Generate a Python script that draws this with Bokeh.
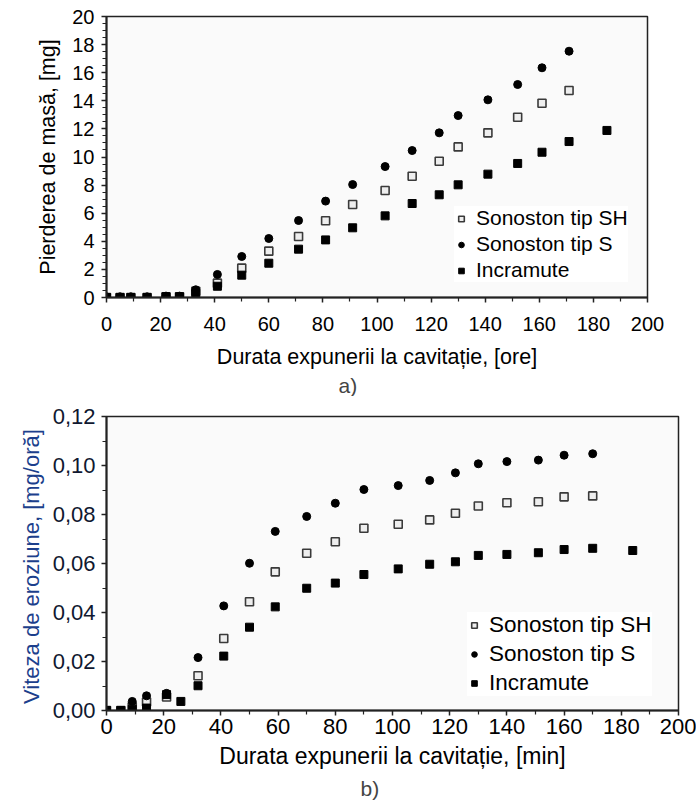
from bokeh.plotting import figure
from bokeh.layouts import column
from bokeh.models import Range1d, FixedTicker, Title, CustomJSTickFormatter
from bokeh.embed import file_html
from bokeh.resources import INLINE

# ---------- data (a) : mass loss [mg] vs exposure time [h] ----------
t_a = [0, 5, 9, 15, 22, 27, 33, 41, 50, 60, 71, 81, 91, 103, 113, 123, 130, 141, 152, 161, 171]
sh_a = [0, 0, 0, 0, 0.05, 0.05, 0.45, 1.02, 2.09, 3.3, 4.34, 5.46, 6.62, 7.62, 8.63, 9.7, 10.72, 11.72, 12.83, 13.83, 14.73]
s_a = [0.05, 0.05, 0.05, 0.05, 0.1, 0.1, 0.55, 1.64, 2.92, 4.2, 5.48, 6.86, 8.04, 9.32, 10.46, 11.72, 12.95, 14.07, 15.16, 16.35, 17.53]
t_a_inc = [0, 5, 9, 15, 22, 27, 33, 41, 50, 60, 71, 81, 91, 103, 113, 123, 130, 141, 152, 161, 171, 185]
inc_a = [0, 0, 0, 0, 0.05, 0.05, 0.25, 0.8, 1.59, 2.44, 3.44, 4.1, 4.96, 5.81, 6.69, 7.31, 8.02, 8.78, 9.54, 10.34, 11.1, 11.89]

# ---------- data (b) : erosion rate [mg/h] vs exposure time ----------
t_b = [0, 5, 9, 14, 21, 32, 41, 50, 59, 70, 80, 90, 102, 113, 122, 130, 140, 151, 160, 170]
s_b = [0, 0, 0.0037, 0.006, 0.007, 0.0216, 0.0427, 0.0601, 0.0731, 0.0792, 0.0846, 0.0902, 0.0918, 0.0939, 0.097, 0.1007, 0.1016, 0.1022, 0.1042, 0.1048]
sh_b = [0, 0, 0.0015, 0.0035, 0.0055, 0.0142, 0.0294, 0.0444, 0.0566, 0.0642, 0.0689, 0.0744, 0.076, 0.0778, 0.0805, 0.0835, 0.0848, 0.0852, 0.0872, 0.0876]
t_b_inc = [0, 5, 9, 14, 21, 26, 32, 41, 50, 59, 70, 80, 90, 102, 113, 122, 130, 140, 151, 160, 170, 184]
inc_b = [0, 0, 0.0005, 0.001, 0.0065, 0.0037, 0.0101, 0.0222, 0.034, 0.0423, 0.0499, 0.052, 0.0555, 0.0578, 0.0597, 0.0607, 0.0633, 0.0637, 0.0644, 0.0657, 0.0662, 0.0653]

labels = ["Sonoston tip SH", "Sonoston tip S", "Incramute"]
x_ticks = [0, 20, 40, 60, 80, 100, 120, 140, 160, 180, 200]
x_minor = [10, 30, 50, 70, 90, 110, 130, 150, 170, 190]
ya_ticks = [0, 2, 4, 6, 8, 10, 12, 14, 16, 18, 20]
yb_ticks = [0, 0.02, 0.04, 0.06, 0.08, 0.10, 0.12]

FONT = "Liberation Sans"


def style_axes(p, ticks_y, minor_y, tick_font):
    p.xgrid.visible = False
    p.ygrid.visible = False
    p.background_fill_color = "#fafafa"
    p.border_fill_color = "white"
    p.outline_line_color = "#222222"
    p.outline_line_width = 1.5
    p.xaxis.ticker = FixedTicker(ticks=x_ticks, minor_ticks=x_minor)
    p.yaxis.ticker = FixedTicker(ticks=ticks_y, minor_ticks=minor_y)
    for ax in (p.xaxis, p.yaxis):
        ax.axis_line_color = "#222222"
        ax.axis_line_width = 2
        ax.major_tick_line_color = "#222222"
        ax.minor_tick_line_color = "#222222"
        ax.major_tick_line_width = 1.5
        ax.minor_tick_line_width = 1.2
        ax.major_tick_in = 0
        ax.major_tick_out = 5
        ax.minor_tick_in = 0
        ax.minor_tick_out = 4
        ax.major_label_text_font = FONT
        ax.major_label_text_font_size = tick_font
        ax.major_label_text_color = "black"
        ax.axis_label_text_font = FONT
        ax.axis_label_text_font_style = "normal"
        ax.axis_label_text_color = "black"


def add_series(p, x_sh, y_sh, x_s, y_s, x_i, y_i):
    p.scatter(x_sh, y_sh, marker="square", size=8, fill_color="#eeeeee",
              line_color="#3a3a3a", line_width=1.6, legend_label=labels[0])
    p.scatter(x_s, y_s, marker="circle", size=8, fill_color="black",
              line_color="black", legend_label=labels[1])
    p.scatter(x_i, y_i, marker="square", size=8, fill_color="black",
              line_color="black", legend_label=labels[2])


def style_legend(p, loc, font_size, row_h, spacing):
    lg = p.legend[0]
    lg.location = loc
    lg.background_fill_color = "white"
    lg.background_fill_alpha = 1
    lg.border_line_color = None
    lg.label_text_font = FONT
    lg.label_text_font_size = font_size
    lg.label_text_color = "black"
    lg.glyph_width = 14
    lg.glyph_height = row_h
    lg.label_height = row_h
    lg.label_standoff = 8
    lg.spacing = spacing
    lg.padding = 6
    lg.margin = 0


# ---------- figure (a) ----------
pa = figure(frame_width=541, frame_height=281, x_range=Range1d(0, 200), y_range=Range1d(0, 20),
            output_backend="svg", toolbar_location=None,
            min_border_left=106, min_border_right=49, min_border_top=16, min_border_bottom=98)
style_axes(pa, ya_ticks, [v + 0.5 * k for v in ya_ticks[:-1] for k in (1, 2, 3)], "20px")
add_series(pa, t_a, sh_a, t_a, s_a, t_a_inc, inc_a)
style_legend(pa, (348, 15), "21px", 23, 2)
pa.xaxis.axis_label = "Durata expunerii la cavitație, [ore]"
pa.yaxis.axis_label = "Pierderea de masă, [mg]"
pa.xaxis.axis_label_text_font_size = "21.5px"
pa.yaxis.axis_label_text_font_size = "21.5px"
pa.xaxis.major_label_standoff = 14
pa.yaxis.major_label_standoff = 7
pa.xaxis.axis_label_standoff = 11
pa.yaxis.axis_label_standoff = 9
pa.add_layout(Title(text="a)", align="left", text_font=FONT, text_font_size="21px",
                    text_font_style="normal", offset=232, standoff=0), "below")

# ---------- figure (b) ----------
pb = figure(frame_width=572, frame_height=294, x_range=Range1d(0, 200), y_range=Range1d(0, 0.12),
            output_backend="svg", toolbar_location=None,
            min_border_left=106, min_border_right=18, min_border_top=20, min_border_bottom=92)
style_axes(pb, yb_ticks, [0.01, 0.03, 0.05, 0.07, 0.09, 0.11], "22px")
add_series(pb, t_b, sh_b, t_b, s_b, t_b_inc, inc_b)
style_legend(pb, (361, 14), "22.5px", 24, 3)
pb.yaxis.formatter = CustomJSTickFormatter(code="return tick.toFixed(2).replace('.', ',');")
pb.xaxis.axis_label = "Durata expunerii la cavitație, [min]"
pb.yaxis.axis_label = "Viteza de eroziune,  [mg/oră]"
pb.xaxis.axis_label_text_font_size = "23px"
pb.yaxis.axis_label_text_font_size = "22px"
pb.yaxis.axis_label_text_color = "#1c3f8c"
pb.yaxis.major_label_text_color = "#101830"
pb.xaxis.major_label_standoff = 3
pb.yaxis.major_label_standoff = 6
pb.xaxis.axis_label_standoff = 6
pb.yaxis.axis_label_standoff = 6
pb.add_layout(Title(text="b)", align="left", text_font=FONT, text_font_size="21px",
                    text_font_style="normal", offset=254, standoff=6), "below")

layout = column(pa, pb, spacing=0)
open("out.html", "w").write(file_html(layout, INLINE))
